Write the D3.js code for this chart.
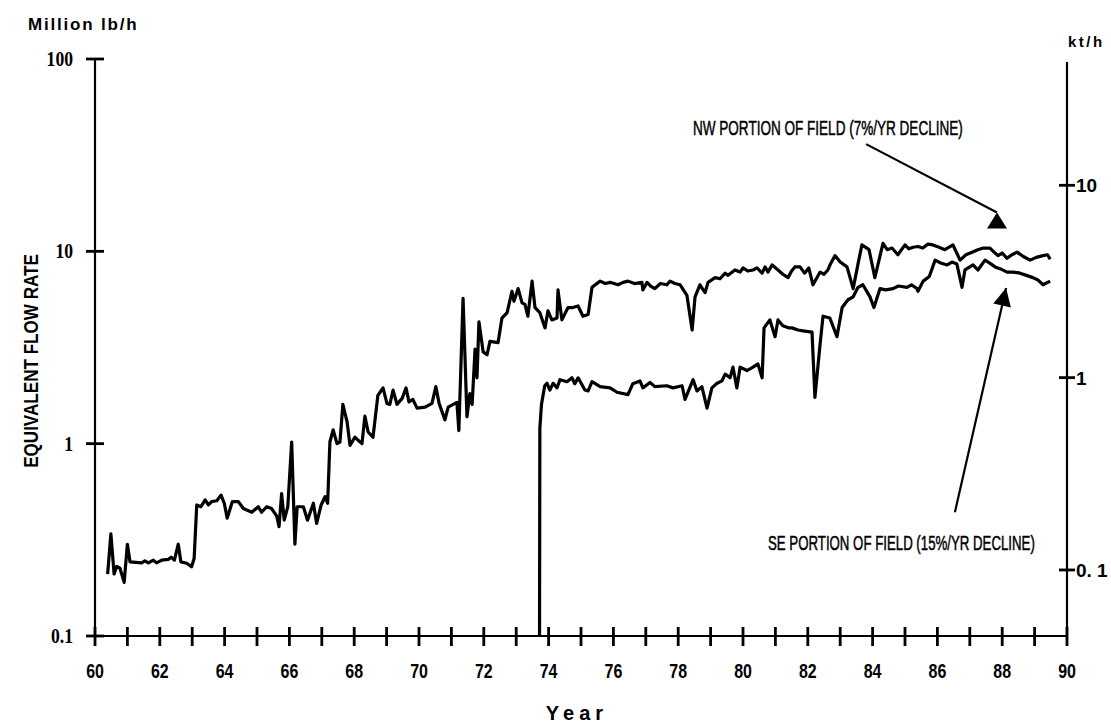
<!DOCTYPE html>
<html>
<head>
<meta charset="utf-8">
<script src="https://cdn.jsdelivr.net/npm/d3@7"></script>
<style>
  body { margin: 0; background: #fff; }
  text { fill: #000; }
</style>
</head>
<body>
<script>
// NW portion of field, million lb/h
var nwYears = [60.39, 60.49, 60.59, 60.67, 60.77, 60.90, 61.00, 61.08, 61.44, 61.54, 61.65, 61.80, 61.90, 62.06, 62.26, 62.35, 62.45, 62.57, 62.65, 62.83, 62.98, 63.06,
  63.14, 63.27, 63.40, 63.50, 63.60, 63.76, 63.89, 63.99, 64.08, 64.24, 64.42, 64.58, 64.84, 65.04, 65.14, 65.30, 65.45, 65.61, 65.68, 65.76, 65.84, 65.95,
  66.07, 66.17, 66.24, 66.43, 66.56, 66.74, 66.84, 66.98, 67.10, 67.18, 67.25, 67.35, 67.47, 67.56, 67.65, 67.78, 67.87, 68.02, 68.24, 68.33, 68.43, 68.58,
  68.73, 68.89, 69.01, 69.10, 69.20, 69.32, 69.48, 69.60, 69.69, 69.81, 69.94, 70.19, 70.40, 70.52, 70.62, 70.80, 70.90, 71.17, 71.23, 71.36, 71.48, 71.57,
  71.64, 71.73, 71.79, 71.85, 71.98, 72.10, 72.19, 72.44, 72.56, 72.72, 72.87, 72.93, 73.06, 73.18, 73.27, 73.36, 73.49, 73.58, 73.73, 73.89, 73.98, 74.10,
  74.26, 74.29, 74.41, 74.60, 74.75, 74.91, 75.06, 75.22, 75.34, 75.59, 75.75, 75.90, 76.14, 76.30, 76.45, 76.65, 76.88, 76.91, 77.04, 77.15, 77.28, 77.45,
  77.65, 77.75, 77.90, 78.06, 78.27, 78.43, 78.52, 78.67, 78.83, 78.92, 79.14, 79.29, 79.45, 79.54, 79.75, 79.91, 80.00, 80.15, 80.31, 80.43, 80.59, 80.68,
  80.77, 80.90, 81.08, 81.23, 81.39, 81.50, 81.60, 81.76, 81.90, 82.03, 82.16, 82.38, 82.50, 82.62, 82.70, 82.84, 83.00, 83.21, 83.40, 83.55, 83.67, 83.89,
  84.07, 84.32, 84.45, 84.60, 84.78, 85.00, 85.12, 85.25, 85.40, 85.55, 85.70, 85.86, 86.05, 86.23, 86.48, 86.70, 86.88, 87.07, 87.25, 87.41, 87.62, 87.75,
  87.87, 88.00, 88.15, 88.30, 88.46, 88.65, 88.86, 89.05, 89.26, 89.40, 89.48];
var nwRates = [0.21, 0.34, 0.21, 0.23, 0.225, 0.19, 0.30, 0.243, 0.24, 0.246, 0.24, 0.248, 0.24, 0.248, 0.25, 0.257, 0.248, 0.30, 0.243, 0.239, 0.229, 0.253,
  0.48, 0.47, 0.51, 0.48, 0.50, 0.505, 0.54, 0.49, 0.41, 0.50, 0.50, 0.46, 0.44, 0.47, 0.44, 0.47, 0.46, 0.42, 0.37, 0.55, 0.40, 0.47,
  1.02, 0.30, 0.47, 0.47, 0.40, 0.49, 0.385, 0.48, 0.53, 0.49, 1.02, 1.18, 1.0, 1.02, 1.6, 1.3, 0.98, 1.08, 1.0, 1.39, 1.15, 1.08,
  1.78, 1.95, 1.62, 1.6, 1.9, 1.6, 1.72, 1.95, 1.65, 1.7, 1.53, 1.55, 1.62, 1.98, 1.62, 1.33, 1.55, 1.64, 1.17, 5.7, 1.38, 1.82,
  1.6, 3.1, 2.2, 4.3, 3.0, 2.9, 3.4, 3.35, 4.5, 4.8, 6.2, 5.5, 6.4, 5.4, 5.3, 4.6, 7.0, 5.1, 4.8, 4.0, 4.9, 4.4,
  4.5, 6.3, 4.4, 5.1, 5.1, 5.2, 4.6, 4.7, 6.5, 7.0, 6.8, 6.9, 6.7, 6.9, 7.0, 6.8, 6.9, 6.3, 6.9, 6.6, 6.4, 6.8,
  6.7, 7.0, 6.8, 6.7, 5.9, 3.9, 5.8, 6.7, 6.1, 6.9, 7.3, 7.2, 7.7, 7.5, 8.0, 7.8, 8.2, 7.9, 8.0, 8.2, 7.7, 8.3,
  7.8, 8.5, 8.0, 7.6, 7.3, 7.9, 8.3, 8.3, 7.7, 8.2, 6.7, 7.8, 7.6, 8.0, 8.6, 9.5, 8.8, 8.3, 6.4, 8.6, 10.8, 10.2,
  7.3, 11.0, 10.2, 10.4, 9.6, 10.8, 10.3, 10.5, 10.6, 10.4, 10.9, 10.8, 10.5, 10.2, 10.8, 9.0, 9.6, 9.9, 10.2, 10.4, 10.4, 9.9,
  9.5, 9.8, 9.2, 9.6, 9.9, 9.4, 9.0, 9.3, 9.5, 9.6, 9.1];

// SE portion of field, million lb/h
var seYears = [73.72, 73.73, 73.78, 73.88, 73.95, 74.04, 74.14, 74.26, 74.35, 74.57, 74.72, 74.81, 74.91, 75.12, 75.22, 75.34, 75.59, 75.90, 76.11, 76.45,
  76.60, 76.82, 76.91, 77.13, 77.28, 77.65, 77.84, 78.12, 78.21, 78.46, 78.58, 78.73, 78.89, 79.04, 79.20, 79.35, 79.45, 79.60, 79.69, 79.81, 79.91,
  80.12, 80.31, 80.46, 80.59, 80.65, 80.83, 80.99, 81.08, 81.23, 81.40, 81.51, 81.70, 81.90, 82.13, 82.22, 82.38, 82.47, 82.68, 82.90, 83.06, 83.24, 83.40,
  83.55, 83.70, 83.92, 84.04, 84.23, 84.40, 84.63, 84.80, 85.06, 85.20, 85.37, 85.40, 85.56, 85.75, 85.93, 86.10, 86.30, 86.45, 86.60, 86.76, 86.85, 87.10,
  87.25, 87.47, 87.65, 87.78, 87.95, 88.15, 88.35, 88.55, 88.75, 88.95, 89.10, 89.26, 89.48];
var seRates = [0.1, 1.2, 1.6, 2.0, 2.06, 1.9, 2.06, 1.95, 2.15, 2.1, 2.2, 2.05, 2.2, 1.9, 1.88, 2.1, 1.98, 1.95, 1.85, 1.8,
  2.05, 2.12, 1.95, 2.08, 1.98, 2.0, 1.95, 2.0, 1.7, 2.15, 1.88, 1.98, 1.53, 1.95, 2.06, 2.12, 2.3, 2.2, 2.5, 1.95, 2.5,
  2.4, 2.5, 2.6, 2.2, 4.0, 4.4, 3.6, 4.4, 4.1, 4.0, 4.0, 3.9, 3.85, 3.8, 1.74, 3.3, 4.6, 4.5, 3.6, 5.1, 5.6, 5.8,
  6.5, 6.7, 5.8, 5.1, 6.4, 6.3, 6.4, 6.6, 6.5, 6.7, 6.4, 6.2, 7.0, 7.4, 9.0, 8.7, 8.5, 8.8, 8.6, 6.5, 8.0, 8.5,
  8.0, 9.0, 8.6, 8.3, 8.1, 7.8, 7.8, 7.7, 7.5, 7.3, 7.1, 6.7, 7.0];

var xTickYears = [60, 61, 62, 63, 64, 65, 66, 67, 68, 69, 70, 71, 72, 73, 74, 75, 76, 77, 78, 79, 80, 81, 82, 83, 84, 85, 86, 87, 88, 89, 90];
var xLabelYears = [60, 62, 64, 66, 68, 70, 72, 74, 76, 78, 80, 82, 84, 86, 88, 90];
var leftTicks = [0.1, 1, 10, 100];
var leftLabels = ["0.1", "1", "10", "100"];
var rightTicks = [0.1, 1, 10];
var rightLabels = ["0. 1", "1", "10"];
var ktPerMlb = 0.4536;

var W = 1111, H = 725;
var svg = d3.select("body").append("svg")
    .attr("width", W)
    .attr("height", H)
    .style("display", "block");

var x = d3.scaleLinear().domain([60, 90]).range([95, 1067]);
var y = d3.scaleLog().domain([0.1, 100]).range([636, 59]);
var y2 = d3.scaleLog().domain([0.1 * ktPerMlb, 100 * ktPerMlb]).range([636, 59]);

var yb = y(0.1), xl = x(60), xr = x(90);

// axis lines
svg.append("path")
    .attr("d", "M" + xl + "," + y(100) + "V" + yb + "H" + xr + "M" + xr + "," + (yb + 4) + "V" + (y(100) + 3))
    .attr("fill", "none")
    .attr("stroke", "#000")
    .attr("stroke-width", 2.2);

// ticks that cross the axes
svg.selectAll(".xt")
  .data(xTickYears)
  .enter().append("rect")
    .attr("class", "xt")
    .attr("x", function(d) { return x(d) - 1.4; })
    .attr("y", yb - 9)
    .attr("width", 2.8)
    .attr("height", 19)
    .attr("fill", "#000");

svg.selectAll(".yt")
  .data(leftTicks)
  .enter().append("rect")
    .attr("class", "yt")
    .attr("x", xl - 9)
    .attr("y", function(d) { return y(d) - 1.4; })
    .attr("width", 18)
    .attr("height", 2.8)
    .attr("fill", "#000");

svg.selectAll(".y2t")
  .data(rightTicks)
  .enter().append("rect")
    .attr("class", "y2t")
    .attr("x", xr - 8)
    .attr("y", function(d) { return y2(d) - 1.4; })
    .attr("width", 16)
    .attr("height", 2.8)
    .attr("fill", "#000");

// tick labels
svg.selectAll(".xlab")
  .data(xLabelYears)
  .enter().append("text")
    .attr("class", "xlab")
    .attr("transform", function(d) { return "translate(" + x(d) + ",678) scale(0.76,1)"; })
    .attr("text-anchor", "middle")
    .style("font", "bold 21px 'Liberation Sans', Arial, sans-serif")
    .text(function(d) { return d; });

svg.selectAll(".ylab")
  .data(leftTicks)
  .enter().append("text")
    .attr("class", "ylab")
    .attr("transform", function(d) { return "translate(73," + (y(d) + 7) + ") scale(0.8,1)"; })
    .attr("text-anchor", "end")
    .style("font", "bold 22px 'Liberation Serif', 'Times New Roman', serif")
    .text(function(d, i) { return leftLabels[i]; });

svg.selectAll(".y2lab")
  .data(rightTicks)
  .enter().append("text")
    .attr("class", "y2lab")
    .attr("x", 1076)
    .attr("y", function(d) { return y2(d) + 7; })
    .style("font", "bold 19px 'Liberation Sans', Arial, sans-serif")
    .text(function(d, i) { return rightLabels[i]; });

// data lines
var line = d3.line()
    .x(function(d) { return x(d[0]); })
    .y(function(d) { return y(d[1]); });

[d3.zip(nwYears, nwRates), d3.zip(seYears, seRates)].forEach(function(s) {
  svg.append("path")
      .datum(s)
      .attr("d", line)
      .attr("fill", "none")
      .attr("stroke", "#000")
      .attr("stroke-width", 3.2)
      .attr("stroke-linejoin", "round");
});

// squeeze a text horizontally to a given width, keeping its left end
function fitText(sel, x0, y0, w) {
  var n = sel.node().getComputedTextLength();
  sel.attr("transform", "translate(" + x0 + "," + y0 + ") scale(" + (w / n) + ",1)");
}

// axis titles
svg.append("text")
    .attr("x", 28).attr("y", 30)
    .style("font", "bold 17px 'Liberation Sans', Arial, sans-serif")
    .style("letter-spacing", "1.8px")
    .text("Million lb/h");

svg.append("text")
    .attr("x", 1068).attr("y", 47)
    .style("font", "bold 15px 'Liberation Sans', Arial, sans-serif")
    .style("letter-spacing", "2.5px")
    .text("kt/h");

svg.append("text")
    .attr("x", 577).attr("y", 720)
    .attr("text-anchor", "middle")
    .style("font", "bold 20px 'Liberation Sans', Arial, sans-serif")
    .style("letter-spacing", "5px")
    .text("Year");

var yt = svg.append("text")
    .attr("text-anchor", "middle")
    .style("font", "bold 21px 'Liberation Sans', Arial, sans-serif")
    .text("EQUIVALENT FLOW RATE");
var ytn = yt.node().getComputedTextLength();
yt.attr("transform", "translate(38,361) rotate(-90) scale(" + (214 / ytn) + ",1)");

// annotations
fitText(svg.append("text")
    .style("font", "21px 'Liberation Sans', Arial, sans-serif")
    .attr("stroke", "#000")
    .attr("stroke-width", 0.5)
    .text("NW PORTION OF FIELD  (7%/YR DECLINE)"), 693, 135, 270);

fitText(svg.append("text")
    .style("font", "21px 'Liberation Sans', Arial, sans-serif")
    .attr("stroke", "#000")
    .attr("stroke-width", 0.5)
    .text("SE PORTION OF FIELD (15%/YR DECLINE)"), 768, 550, 267);

// arrows: start and tip in data units
var nwArrow = [[83.80, 36.1], [87.84, 15.9]];
var seArrow = [[86.54, 0.44], [88.12, 6.45]];

svg.append("line")
    .attr("x1", x(nwArrow[0][0])).attr("y1", y(nwArrow[0][1]))
    .attr("x2", x(nwArrow[1][0])).attr("y2", y(nwArrow[1][1]))
    .attr("stroke", "#000").attr("stroke-width", 2.2);
var tx = x(nwArrow[1][0]), ty = y(nwArrow[1][1]);
svg.append("path")
    .attr("d", "M" + tx + "," + ty + "L" + (tx - 10) + "," + (ty + 16) + "L" + (tx + 10) + "," + (ty + 16) + "Z")
    .attr("fill", "#000");

svg.append("line")
    .attr("x1", x(seArrow[0][0])).attr("y1", y(seArrow[0][1]))
    .attr("x2", x(seArrow[1][0])).attr("y2", y(seArrow[1][1]))
    .attr("stroke", "#000").attr("stroke-width", 2.2);
var sx0 = x(seArrow[0][0]), sy0 = y(seArrow[0][1]);
var sx = x(seArrow[1][0]), sy = y(seArrow[1][1]);
var len = Math.hypot(sx - sx0, sy - sy0), ux = (sx - sx0) / len, uy = (sy - sy0) / len;
var bx = sx - ux * 18, by = sy - uy * 18;
svg.append("path")
    .attr("d", "M" + sx + "," + sy + "L" + (bx - uy * 9) + "," + (by + ux * 9) + "L" + (bx + uy * 9) + "," + (by - ux * 9) + "Z")
    .attr("fill", "#000");
</script>
</body>
</html>
